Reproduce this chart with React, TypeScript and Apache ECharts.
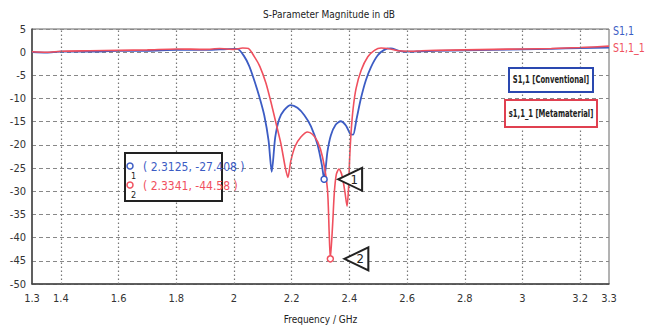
import React, { useEffect, useRef } from "react";
import * as echarts from "echarts";

const titleText = "S-Parameter Magnitude in dB";
const xAxisName = "Frequency / GHz";
const seriesNames = ["S1,1", "S1,1_1"];
const legendBoxTexts = ["S1,1 [Conventional]", "s1,1_1 [Metamaterial]"];
const xLabelValues = [1.3, 1.4, 1.6, 1.8, 2, 2.2, 2.4, 2.6, 2.8, 3, 3.2, 3.3];
const xGridValues = [1.4, 1.6, 1.8, 2, 2.2, 2.4, 2.6, 2.8, 3, 3.2];

const blueFreq = [
  1.3, 1.35, 1.4, 1.5, 1.6, 1.7, 1.8, 1.9, 1.95, 2.0,
  2.012, 2.035, 2.053, 2.07, 2.088, 2.105, 2.12, 2.131, 2.143, 2.157,
  2.174, 2.197, 2.22, 2.244, 2.267, 2.29, 2.305, 2.3125, 2.324, 2.336,
  2.353, 2.37, 2.388, 2.403, 2.413, 2.425, 2.44, 2.457, 2.475, 2.498,
  2.521, 2.544, 2.573, 2.6, 2.65, 2.7, 2.8, 2.9, 3.0, 3.1,
  3.2, 3.3,
];
const blueDb = [
  0.0, -0.1, 0.1, 0.1, 0.3, 0.3, 0.5, 0.5, 0.6, 0.7,
  0.7, -0.85, -3.0, -6.0, -9.6, -13.6, -19.1, -25.8, -18.4, -14.4,
  -12.5, -11.4, -12.0, -13.6, -16.0, -20.0, -24.4, -27.408, -21.5, -17.9,
  -15.6, -14.9, -15.8, -17.6, -17.8, -14.4, -10.0, -6.1, -3.2, -0.7,
  0.5, 0.8, 0.3, 0.1, 0.2, 0.3, 0.4, 0.5, 0.6, 0.7,
  0.9, 1.0,
];
const redFreq = [
  1.3, 1.35, 1.4, 1.5, 1.6, 1.7, 1.8, 1.9, 1.95, 2.0,
  2.03, 2.05, 2.07, 2.09, 2.111, 2.128, 2.145, 2.163, 2.178, 2.187,
  2.197, 2.212, 2.232, 2.255, 2.272, 2.29, 2.307, 2.324, 2.33, 2.3341,
  2.342, 2.348, 2.355, 2.364, 2.375, 2.385, 2.392, 2.397, 2.401, 2.406,
  2.413, 2.423, 2.441, 2.464, 2.487, 2.51, 2.533, 2.568, 2.6, 2.65,
  2.7, 2.8, 2.9, 3.0, 3.1, 3.2, 3.3,
];
const redDb = [
  0.1, 0.0, 0.2, 0.3, 0.4, 0.5, 0.7, 0.6, 0.8, 0.6,
  0.9, 0.8, -0.9, -3.1, -6.7, -10.7, -15.1, -19.8, -24.9, -27.0,
  -23.5, -20.3, -18.3, -17.2, -17.7, -19.3, -22.6, -29.5, -38.8, -44.58,
  -37.2, -30.2, -26.3, -25.2, -26.7, -30.3, -33.2, -29.6, -23.0, -17.3,
  -12.2, -7.9, -3.9, -1.0, 0.4, 0.9, 0.8, 0.3, 0.2, 0.3,
  0.4, 0.5, 0.6, 0.7, 0.8, 1.0, 1.3,
];

const markerIds = ["1", "2"];
const markerFreq = [2.3125, 2.3341];
const markerDb = [-27.408, -44.58];

const BLUE = "#3c5cc4";
const RED = "#f0505e";
const FONT = "'Liberation Sans Narrow', 'DejaVu Sans Condensed', 'Noto Sans', sans-serif";

export default function App() {
  const ref = useRef<HTMLDivElement>(null);

  useEffect(() => {
    if (!ref.current) return;
    const chart = echarts.init(ref.current, undefined, { renderer: "svg" });
    const colors = [BLUE, RED];
    const makeMarks = (i: number) => ({
      silent: true,
      data: [
        {
          coord: [markerFreq[i], markerDb[i]],
          symbol: "circle",
          symbolSize: 6,
          itemStyle: { color: "#fff", borderColor: colors[i], borderWidth: 1.5 },
          label: { show: false },
        },
        {
          coord: [markerFreq[i], markerDb[i]],
          symbol: "triangle",
          symbolSize: [23, 24],
          symbolRotate: 90,
          symbolOffset: [26, 0],
          itemStyle: { color: "#fff", borderColor: "#222", borderWidth: 2 },
          label: {
            show: true,
            formatter: markerIds[i],
            position: "inside",
            offset: [4, 0],
            color: "#222",
            fontSize: 13,
            fontFamily: FONT,
          },
        },
      ],
    });

    const txt = (
      text: string,
      x: number,
      y: number,
      fill: string,
      fontSize: number,
      opts: Record<string, unknown> = {},
      scaleX = 1
    ) => ({
      type: "text",
      x,
      y,
      z: 101,
      scaleX,
      style: {
        text,
        fill,
        fontSize,
        fontFamily: FONT,
        verticalAlign: "middle",
        ...opts,
      },
    });

    chart.setOption({
      animation: false,
      backgroundColor: "#fff",
      title: {
        text: titleText,
        left: 258,
        top: 4,
        textStyle: { fontSize: 10, fontWeight: "normal", color: "#222", fontFamily: FONT },
      },
      grid: {
        left: 32,
        right: 40,
        top: 29,
        bottom: 45,
        show: true,
        borderColor: "#666",
        borderWidth: 1,
      },
      xAxis: {
        type: "value",
        min: 1.3,
        max: 3.3,
        interval: 0.1,
        name: xAxisName,
        nameLocation: "middle",
        nameGap: 30,
        nameTextStyle: { fontSize: 10, color: "#222", fontFamily: FONT },
        axisLine: { show: true, onZero: false, lineStyle: { color: "#444", width: 1.5 } },
        axisTick: { show: false },
        splitLine: { show: false },
        axisLabel: {
          fontSize: 11,
          color: "#333",
          fontFamily: FONT,
          margin: 9,
          showMinLabel: true,
          showMaxLabel: true,
          formatter: (v: number) =>
            xLabelValues.some((t) => Math.abs(t - v) < 1e-6) ? String(Number(v.toFixed(1))) : "",
        },
      },
      yAxis: {
        type: "value",
        min: -50,
        max: 5,
        interval: 5,
        axisLine: { show: true, lineStyle: { color: "#444", width: 1.5 } },
        axisTick: { show: false },
        axisLabel: { fontSize: 11, color: "#333", fontFamily: FONT, margin: 6 },
        splitLine: { show: true, lineStyle: { color: "#888", type: [4, 3], width: 1 } },
      },
      series: [
        {
          type: "line",
          name: "grid",
          data: [],
          z: 1,
          silent: true,
          markLine: {
            silent: true,
            symbol: "none",
            label: { show: false },
            lineStyle: { color: "#777", type: [1.5, 2.5], width: 1.2 },
            data: xGridValues.map((v) => ({ xAxis: v })),
          },
        },
        {
          type: "line",
          name: seriesNames[0],
          data: blueFreq.map((f, i) => [f, blueDb[i]]),
          showSymbol: false,
          smooth: 0.25,
          z: 3,
          lineStyle: { color: BLUE, width: 1.8 },
          itemStyle: { color: BLUE },
          markPoint: makeMarks(0),
        },
        {
          type: "line",
          name: seriesNames[1],
          data: redFreq.map((f, i) => [f, redDb[i]]),
          showSymbol: false,
          smooth: 0.25,
          z: 4,
          lineStyle: { color: RED, width: 1.6 },
          itemStyle: { color: RED },
          markPoint: makeMarks(1),
        },
      ],
      graphic: [
        txt(seriesNames[0], 613, 31, BLUE, 12, {}, 0.88),
        txt(seriesNames[1], 613, 48, RED, 12, {}, 0.88),
        {
          type: "rect",
          z: 100,
          shape: { x: 509, y: 68, width: 84, height: 24 },
          style: { fill: "#fff", stroke: "#2a48b0", lineWidth: 2 },
        },
        txt(legendBoxTexts[0], 551, 80, "#222", 10, { fontWeight: "bold", align: "center" }, 0.76),
        {
          type: "rect",
          z: 100,
          shape: { x: 505, y: 100, width: 92, height: 27 },
          style: { fill: "#fff", stroke: "#e04050", lineWidth: 2 },
        },
        txt(legendBoxTexts[1], 551, 114, "#222", 10, { fontWeight: "bold", align: "center" }, 0.76),
        {
          type: "rect",
          z: 100,
          shape: { x: 125, y: 153, width: 97, height: 48 },
          style: { fill: "#fff", stroke: "#222", lineWidth: 2 },
        },
        {
          type: "circle",
          z: 101,
          shape: { cx: 130, cy: 166, r: 3 },
          style: { fill: "#fff", stroke: BLUE, lineWidth: 1.5 },
        },
        txt(markerIds[0], 131, 176, "#222", 9),
        {
          type: "circle",
          z: 101,
          shape: { cx: 130, cy: 185, r: 3 },
          style: { fill: "#fff", stroke: RED, lineWidth: 1.5 },
        },
        txt(markerIds[1], 131, 195, "#222", 9),
        txt(`( ${markerFreq[0]}, ${markerDb[0]} )`, 143, 167, BLUE, 12),
        txt(`( ${markerFreq[1]}, ${markerDb[1]} )`, 143, 186, RED, 12),
      ],
    });
    return () => chart.dispose();
  }, []);

  return (
    <div
      ref={ref}
      style={{ position: "absolute", left: 0, top: 0, width: 649, height: 329 }}
    />
  );
}
